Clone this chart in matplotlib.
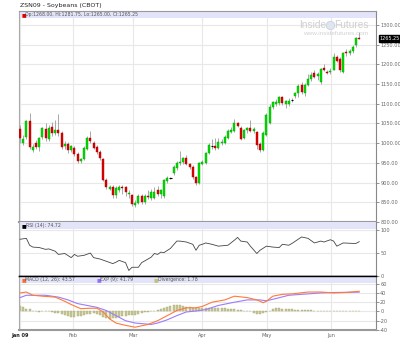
import matplotlib
matplotlib.use('Agg')
import matplotlib.pyplot as plt
import matplotlib.transforms as mtransforms
import numpy as np

# ---------------- data ----------------
title = 'ZSN09 - Soybeans (CBOT)'

opens = [1036,1000,1016,1056,983,1001,990,1016,1036,1011,
         1041,1026,1033,1026,993,998,983,988,973,955,
         960,985,1013,1001,991,978,960,907,885,889,
         869,880,890,888,870,869,843,848,866,850,
         866,861,862,880,870,866,904,912,924,937,
         950,952,962,947,940,914,899,948,950,975,
         993,993,988,1001,1001,1013,1029,1031,1051,1039,
         1013,1033,1039,1031,1028,998,983,1021,1051,1092,
         1100,1102,1117,1099,1100,1110,1120,1127,1148,1127,
         1148,1163,1178,1170,1155,1191,1181,1180,1186,1219,
         1214,1181,1232,1229,1234,1249,1268]
closes = [1013,1010,1057,990,991,990,1012,1039,1013,1039,
          1026,1033,1026,990,998,983,993,973,955,960,
          988,1013,1005,988,978,962,907,889,889,869,
          886,889,886,875,874,846,848,866,850,866,
          864,876,876,872,881,907,912,912,940,950,
          952,962,947,940,914,899,950,952,975,995,
          993,988,1003,1004,1016,1031,1033,1051,1044,1011,
          1033,1039,1031,1035,995,983,1026,1072,1092,1105,
          1104,1117,1102,1106,1108,1110,1127,1145,1130,1148,
          1163,1173,1168,1175,1188,1186,1178,1184,1219,1209,
          1186,1229,1229,1234,1244,1267,1265.25]
highs = [1045,1020,1060,1077,998,1008,1016,1042,1050,1045,
         1055,1060,1075,1030,1005,1003,996,992,978,963,
         992,1018,1030,1005,995,982,962,912,895,893,
         892,895,895,892,880,872,855,870,872,870,
         880,885,890,892,885,910,918,915,945,955,
         980,966,970,950,944,918,952,958,978,1000,
         1010,1012,1012,1010,1022,1036,1040,1062,1055,1044,
         1037,1042,1058,1040,1032,1002,1030,1076,1100,1108,
         1112,1120,1120,1110,1115,1115,1130,1150,1155,1152,
         1175,1180,1185,1180,1192,1200,1185,1190,1230,1224,
         1218,1232,1238,1240,1248,1270,1281.75]
lows = [1000,995,1010,985,978,985,980,1010,1005,1005,
        1018,1020,1018,985,985,975,978,968,950,950,
        958,982,1000,984,972,958,905,884,880,862,
        860,875,870,865,862,840,838,845,845,845,
        858,855,858,865,860,862,900,908,920,932,
        945,948,944,935,910,893,897,945,948,972,
        985,983,985,995,998,1010,1025,1028,1040,1008,
        1010,1025,1028,1025,985,978,980,1018,1048,1088,
        1095,1098,1098,1090,1095,1105,1115,1118,1125,1120,
        1145,1158,1165,1160,1150,1182,1175,1176,1185,1205,
        1180,1178,1222,1225,1230,1245,1265]

rsi_idx = [0,2,3,4,6,8,9,11,12,14,16,17,18,20,22,23,25,27,29,30,
           31,33,34,35,37,38,41,42,43,44,45,47,49,50,52,54,55,56,57,58,
           60,62,65,67,68,69,71,72,74,75,77,79,81,82,84,85,88,90,92,94,
           95,97,98,99,101,104,105,106]
rsi_val = [80,82,67,63,62,58,59,54,47,49,40,47,43,45,50,40,37,32,27,30,
           34,29,12,19,19,29,41,49,47,52,51,60,76,76,74,69,56,67,69,72,
           69,65,67,78,84,76,74,65,49,56,65,63,62,69,67,71,85,82,72,76,
           74,79,76,65,72,71,71,74.72]

macd_idx = [0,2,4,7,11,14,16,19,22,24,26,28,30,33,36,40,43,46,49,52,
            55,57,60,64,67,71,74,76,77,79,82,85,90,94,98,102,106]
macd_val = [40,42,35,33,31,22,15,6,7,7,-1,-16,-25,-30,-34,-28,-20,-9,2,8,
            8,11,20,25,33,30,25,19,22,33,37,38,42,42,40,41,43.57]

sig_idx = [0,2,4,8,12,15,18,21,24,27,30,33,36,41,43,46,49,52,55,58,
           62,67,71,75,77,80,84,90,94,98,106]
sig_val = [30,35,35,35,31,25,17,13,9,2,-9,-20,-25,-28,-25,-18,-9,-1,1,4,
           13,20,25,25,23,28,35,38,40,41,41.79]

divergence = [11,10,6,5,1,0,-1,0,1,0,
              -2,-3,-4,-6,-8,-10,-11,-11,-10,-9,
              -8,-6,-5,-4,-5,-8,-12,-14,-16,-15,
              -14,-12,-10,-9,-8,-8,-7,-5,-3,-2,
              -1,0,2,4,6,8,10,12,14,15,
              14,12,10,9,8,7,7,7,8,8,
              8,8,7,7,7,6,6,5,4,3,
              2,1,0,-3,-5,-5,-4,-2,2,5,
              7,7,6,6,5,5,4,4,3,3,
              3,3,2,2,2,2,2,1,1,1,
              1,0,1,1,1,2,1.78]

month_labels = ['Jan 09', 'Feb', 'Mar', 'Apr', 'May', 'Jun']
month_pos = [0, 16.7, 35.3, 56.9, 77.2, 97.2]

price_ticks = [800, 850, 900, 950, 1000, 1050, 1100, 1150, 1200, 1250, 1300]
rsi_ticks = [0, 50, 100]
macd_ticks = [-40, -20, 0, 20, 40, 60]

legend_main = 'Op:1268.00, Hi:1281.75, Lo:1265.00, Cl:1265.25'
legend_rsi = 'RSI (14): 74.72'
legend_macd = ['MACD (12, 26): 43.57', 'EXP (9): 41.79', 'Divergence: 1.78']
last_price = 1265.25

# ---------------- figure ----------------
W, H = 400, 351
fig = plt.figure(figsize=(W / 100, H / 100), dpi=100)
fig.patch.set_facecolor('white')

def axrect(x0, y0, x1, y1):
    return [x0 / W, 1 - y1 / H, (x1 - x0) / W, (y1 - y0) / H]

ax1 = fig.add_axes(axrect(19, 11, 376, 222))
ax2 = fig.add_axes(axrect(19, 222, 376, 276))
ax3 = fig.add_axes(axrect(19, 276, 376, 330))

grid_c = '#e8e8e8'
band_c = '#e3e3fa'
tick_c = '#666666'
XL = (-0.31, 111.25)

for ax in (ax1, ax2, ax3):
    ax.set_xlim(*XL)
    ax.set_facecolor('white')
    ax.yaxis.tick_right()
    ax.tick_params(axis='y', direction='out', length=2, width=0.5,
                   colors=tick_c, labelsize=3.6, pad=1)
    ax.set_xticks(month_pos)
    ax.tick_params(axis='x', length=0)
    for xp in month_pos:
        ax.axvline(xp, color=grid_c, lw=0.8, zorder=0)
    ax.spines['left'].set_color('#aaaaaa')
    ax.spines['left'].set_linewidth(0.8)
    ax.spines['right'].set_color('#888888')
    ax.spines['right'].set_linewidth(0.8)

ax1.tick_params(axis='x', labelbottom=False)
ax2.tick_params(axis='x', labelbottom=False)
ax3.set_xticklabels(month_labels, fontsize=3.6, color=tick_c)
ax3.tick_params(axis='x', pad=2)
ax3.get_xticklabels()[0].set_color('#222222')
ax3.get_xticklabels()[0].set_fontweight('bold')

ax1.spines['top'].set_color('#999999'); ax1.spines['top'].set_linewidth(0.8)
ax1.spines['bottom'].set_color('#999999'); ax1.spines['bottom'].set_linewidth(1.5)
ax2.spines['top'].set_visible(False)
ax2.spines['bottom'].set_color('black'); ax2.spines['bottom'].set_linewidth(1.0)
ax3.spines['top'].set_color('black'); ax3.spines['top'].set_linewidth(1.0)
ax3.spines['bottom'].set_color('#999999'); ax3.spines['bottom'].set_linewidth(1.5)

def band(ax, frac):
    ax.add_patch(plt.Rectangle((0, 1 - frac), 1, frac, transform=ax.transAxes,
                               facecolor=band_c, edgecolor='none', zorder=1))

# ---- main price panel ----
ax1.set_ylim(800, 1335.5)
ax1.set_yticks(price_ticks)
ax1.set_yticklabels(['%.2f' % v for v in price_ticks])
for v in price_ticks:
    ax1.axhline(v, color=grid_c, lw=0.8, zorder=0)
band(ax1, 7 / 211)

# watermark
ax1.text(0.862, 0.934, 'Inside', transform=ax1.transAxes, ha='right', va='center',
         fontsize=7.3, color='#cfcfcf', family='Liberation Sans', zorder=1)
ax1.plot([0.872], [0.934], 'o', ms=6, mfc='#dfe6ef', mec='#c9d2de', mew=0.6,
         transform=ax1.transAxes, zorder=1)
ax1.text(0.884, 0.934, 'Futures', transform=ax1.transAxes, ha='left', va='center',
         fontsize=7.3, color='#cfcfcf', family='Liberation Sans', zorder=1)
ax1.text(0.886, 0.893, 'www.insidefutures.com', transform=ax1.transAxes, ha='center',
         va='center', fontsize=4.6, color='#d2d2d2', family='Liberation Sans', zorder=1)

idx = np.arange(len(opens))
o = np.array(opens, float); c = np.array(closes, float)
hi = np.array(highs, float); lo = np.array(lows, float)
ax1.vlines(idx, lo, hi, color='#a8a8a8', lw=0.7, zorder=2)
up = c > o
dn = c < o
dj = c == o
ax1.bar(idx[up], np.maximum(c[up] - o[up], 2.0), bottom=o[up], width=0.62,
        color='#00dd00', edgecolor='#00a000', linewidth=0.3, zorder=3)
ax1.bar(idx[dn], np.maximum(o[dn] - c[dn], 2.0), bottom=c[dn], width=0.62,
        color='#e00000', edgecolor='#a00000', linewidth=0.3, zorder=3)
ax1.hlines(c[dj], idx[dj] - 0.45, idx[dj] + 0.45, color='black', lw=0.8, zorder=3)

ax1.text(0.0084, 1 - 3.6 / 211, '\u25A0', transform=ax1.transAxes, fontsize=3.6,
         color='#dd0000', va='center', ha='left', zorder=4)
ax1.text(0.0175, 1 - 3.6 / 211, legend_main, transform=ax1.transAxes, fontsize=3.3,
         color='#555555', va='center', ha='left', zorder=4)

trans = mtransforms.blended_transform_factory(ax1.transAxes, ax1.transData)
ax1.text(1.0 + 3.5 / 357, last_price, '%.2f' % last_price, transform=trans,
         fontsize=3.5, color='white', va='center', ha='left', clip_on=False, zorder=6,
         bbox=dict(boxstyle='square,pad=0.2', fc='black', ec='black'))

# ---- RSI panel ----
ax2.set_ylim(0, 117.6)
ax2.set_yticks(rsi_ticks)
ax2.set_yticklabels([str(v) for v in rsi_ticks])
for v in rsi_ticks:
    ax2.axhline(v, color=grid_c, lw=0.8, zorder=0)
band(ax2, 7 / 54)
ax2.plot(rsi_idx, rsi_val, color='#444444', lw=0.6, zorder=3)
ax2.text(0.0084, 1 - 4 / 54, '\u25A0', transform=ax2.transAxes, fontsize=3.6,
         color='black', va='center', ha='left', zorder=4)
ax2.text(0.0185, 1 - 4 / 54, legend_rsi, transform=ax2.transAxes, fontsize=3.3,
         color='#555555', va='center', ha='left', zorder=4)

# ---- MACD panel ----
ax3.set_ylim(-40, 76.6)
ax3.set_yticks(macd_ticks)
ax3.set_yticklabels([str(v) for v in macd_ticks])
for v in macd_ticks:
    ax3.axhline(v, color=grid_c, lw=0.8, zorder=0)
band(ax3, 7 / 54)
ax3.bar(idx, divergence, width=0.6, color='#c8c896', edgecolor='#a9a973',
        linewidth=0.3, zorder=2)
ax3.plot(sig_idx, sig_val, color='#9b7bff', lw=0.8, zorder=3)
ax3.plot(macd_idx, macd_val, color='#ff7a3a', lw=0.8, zorder=4)

leg_cols = ['#ff6a2a', '#9370ff', '#c0c080']
sq_x = [21.7, 97, 154]
for lbl, col, sx in zip(legend_macd, leg_cols, sq_x):
    ax3.text((sx - 19) / 357, 1 - 4 / 54, '\u25A0', transform=ax3.transAxes,
             fontsize=3.6, color=col, va='center', ha='left', zorder=4)
    ax3.text((sx - 19 + 3.5) / 357, 1 - 4 / 54, lbl, transform=ax3.transAxes,
             fontsize=3.3, color='#555555', va='center', ha='left', zorder=4)

fig.text(20 / W, 1 - 5.5 / H, title, fontsize=4.5, color='#222222', va='center', ha='left')

fig.savefig('out.png', dpi=100, facecolor='white')
